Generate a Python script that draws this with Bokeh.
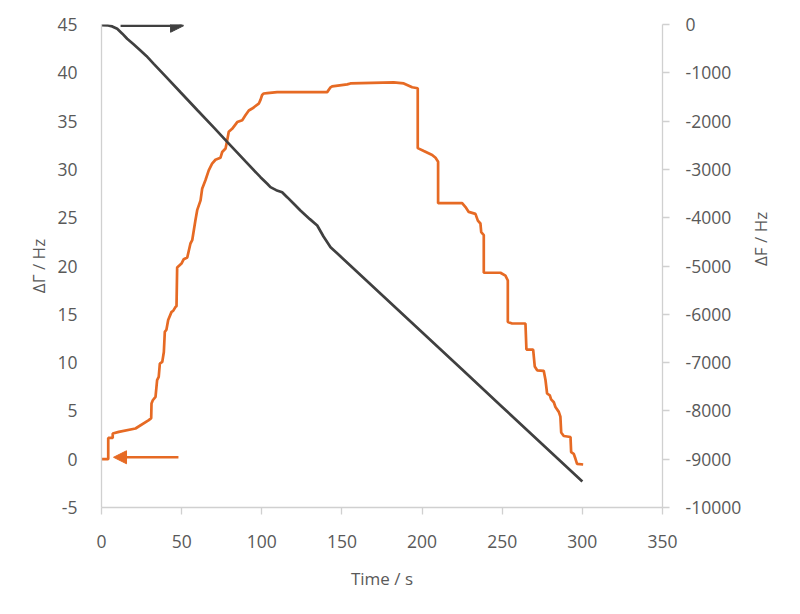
import math
from bokeh.plotting import figure
from bokeh.models import (Range1d, LinearAxis, FixedTicker, Arrow, NormalHead, ColumnDataSource,
                          CustomJSTickFormatter)
from bokeh.embed import file_html
from bokeh.resources import INLINE

# ---- data ----
gamma_t = [0, 4.2, 4.2, 7.0, 7.0, 10.8, 21.2, 29.5, 31.0, 31.2, 32.0, 33.7, 34.7, 35.7, 36.4, 37.9,
           38.9, 39.5, 40.5, 41.6, 43.7, 44.7, 46.2, 46.8, 47.2, 49.9, 51.3, 53.5, 54.5, 55.5, 56.6,
           58.6, 59.7, 61.8, 62.8, 64.9, 66.9, 69.0, 71.1, 74.2, 75.3, 77.4, 78.4, 79.4, 81.5, 84.7,
           87.8, 89.8, 91.9, 94.0, 98.1, 99.2, 100.2, 101.2, 103.4, 109.6, 140.8, 142.9, 143.9, 153.3,
           155.3, 182.3, 188.6, 193.8, 197.3, 197.3, 201.1, 206.3, 208.4, 210.0, 210.0, 217.7, 225.0,
           227.1, 229.1, 233.3, 234.8, 236.4, 236.9, 238.5, 238.5, 248.9, 252.0, 253.5, 253.5, 256.2,
           264.5, 265.1, 269.3, 270.3, 271.8, 275.9, 277.0, 278.0, 279.7, 280.5, 282.2, 283.2, 285.3,
           286.3, 286.8, 288.4, 292.6, 293.0, 294.6, 295.7, 296.7, 300.5]
gamma_v = [0, 0, 2.2, 2.2, 2.66, 2.83, 3.18, 4.04, 4.24, 5.76, 6.1, 6.45, 8.18, 8.52, 9.9, 10.07,
           11.1, 13.18, 13.4, 14.4, 15.25, 15.35, 15.77, 15.84, 19.84, 20.25, 20.7, 20.88, 21.6, 22.33, 22.67,
           24.74, 25.78, 26.8, 28.0, 28.9, 29.9, 30.6, 31.0, 31.2, 31.8, 32.16, 33.0, 33.9, 34.2, 34.9,
           35.1, 35.6, 36.1, 36.3, 36.8, 37.2, 37.7, 37.86, 37.9, 38.0, 38.0, 38.5, 38.6, 38.8,
           38.9, 39.0, 38.9, 38.5, 38.4, 32.2, 31.9, 31.5, 31.2, 30.8, 26.5, 26.5, 26.5,
           26.1, 25.6, 25.4, 24.7, 24.4, 23.5, 23.2, 19.3, 19.3, 19.0, 18.5, 14.2, 14.05,
           14.05, 11.35, 11.35, 9.6, 9.2, 9.15, 8.2, 6.8, 6.6, 6.2, 5.9, 5.4, 4.9,
           4.4, 2.76, 2.4, 2.3, 0.73, 0.56, 0.04, -0.48, -0.55]

freq_t = [0, 4.2, 6.7, 9.8, 13, 16.0, 20, 24.3, 28, 32.6, 40, 49.3, 60, 70, 78.4, 90, 99.2, 103.4,
          105.4, 109, 112.7, 116, 119.8, 124.1, 130, 134.6, 138.5, 142.9, 150, 175, 200, 225, 250, 275, 300]
freq_v = [-15, -20, -40, -89, -190, -296, -410, -538, -650, -814, -1075, -1403, -1780, -2130, -2430, -2840,
          -3161, -3298, -3368, -3430, -3472, -3580, -3706, -3851, -4030, -4161, -4390, -4611, -4827,
          -5600, -6373, -7145, -7918, -8690, -9462]

x_ticks = [0, 50, 100, 150, 200, 250, 300, 350]
left_ticks = [-5, 0, 5, 10, 15, 20, 25, 30, 35, 40, 45]
right_ticks = [-10000, -9000, -8000, -7000, -6000, -5000, -4000, -3000, -2000, -1000, 0]

# arrow annotations (data coords): black -> right axis, orange -> left axis
black_arrow = dict(x0=11.9, x1=51.2, y=44.87)
orange_arrow = dict(x0=48.0, x1=7.5, y=0.2)

ORANGE = "#E66A24"
DARK = "#404040"
TXT = "#595959"
AXC = "#D0D0D0"
FONT = "Open Sans"

p = figure(width=792, height=606, output_backend="svg", toolbar_location=None,
           x_range=Range1d(0, 350), y_range=Range1d(-5, 45),
           min_border_left=101, min_border_right=130, min_border_top=24, min_border_bottom=99)
p.extra_y_ranges = {"F": Range1d(-10000, 0)}
p.outline_line_color = None
p.xgrid.visible = False
p.ygrid.visible = False
p.background_fill_color = "white"
p.border_fill_color = "white"

fmt_code = "return String(Math.round(tick));"

def style(ax, ticks):
    ax.ticker = FixedTicker(ticks=ticks)
    ax.formatter = CustomJSTickFormatter(code=fmt_code)
    ax.axis_line_color = AXC
    ax.axis_line_width = 1.3
    ax.major_tick_line_color = AXC
    ax.major_tick_line_width = 1.3
    ax.minor_tick_line_color = None
    ax.major_tick_in = 0
    ax.major_label_text_color = TXT
    ax.major_label_text_font = FONT
    ax.major_label_text_font_size = "17.5px"
    ax.axis_label_text_color = TXT
    ax.axis_label_text_font = FONT
    ax.axis_label_text_font_size = "17px"
    ax.axis_label_text_font_style = "normal"

xa = p.xaxis[0]
style(xa, x_ticks)
xa.axis_label = "Time / s"
xa.major_tick_out = 7
xa.major_label_standoff = 20
xa.axis_label_standoff = 16

ya = p.yaxis[0]
style(ya, left_ticks)
ya.axis_label = "ΔΓ / Hz"
ya.major_tick_out = 0
ya.major_tick_line_color = None
ya.major_label_standoff = 24
ya.axis_label_standoff = 4

ra = LinearAxis(y_range_name="F", axis_label="ΔF  / Hz")
style(ra, right_ticks)
ra.major_tick_out = 7
ra.major_label_standoff = 16
ra.axis_label_standoff = 16
if "axis_label_orientation" in ra.properties():
    ra.axis_label_orientation = math.pi / 2
p.add_layout(ra, "right")

src_g = ColumnDataSource(dict(t=gamma_t, v=gamma_v))
src_f = ColumnDataSource(dict(t=freq_t, v=freq_v))
p.line("t", "v", source=src_g, line_color=ORANGE, line_width=2.7)
p.line("t", "v", source=src_f, line_color=DARK, line_width=2.7, y_range_name="F")

p.add_layout(Arrow(end=NormalHead(size=13, fill_color=DARK, line_color=DARK),
                   x_start=black_arrow["x0"], x_end=black_arrow["x1"],
                   y_start=black_arrow["y"], y_end=black_arrow["y"],
                   line_color=DARK, line_width=2.5))
p.add_layout(Arrow(end=NormalHead(size=13, fill_color=ORANGE, line_color=ORANGE),
                   x_start=orange_arrow["x0"], x_end=orange_arrow["x1"],
                   y_start=orange_arrow["y"], y_end=orange_arrow["y"],
                   line_color=ORANGE, line_width=2.5))

open("out.html", "w").write(file_html(p, INLINE))
